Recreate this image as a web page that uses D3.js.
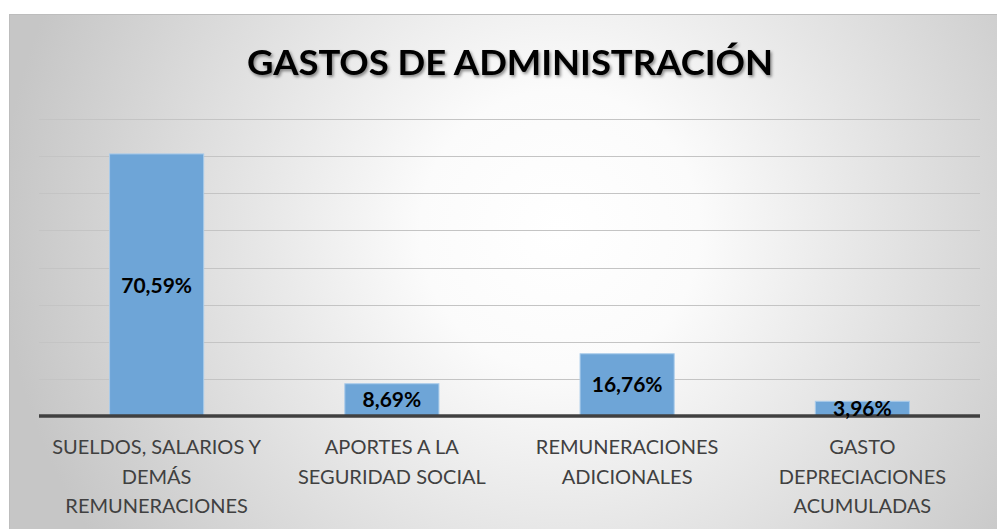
<!DOCTYPE html>
<html lang="es">
<head>
<meta charset="UTF-8">
<title>Gastos de administración</title>
<style>
  body { margin: 0; background: #fff; }
  svg { display: block; }
</style>
</head>
<body>
<script src="https://d3js.org/d3.v7.min.js"></script>
<script>
// datos
const categories = [
  ['SUELDOS, SALARIOS Y', 'DEMÁS', 'REMUNERACIONES'],
  ['APORTES A LA', 'SEGURIDAD SOCIAL'],
  ['REMUNERACIONES', 'ADICIONALES'],
  ['GASTO', 'DEPRECIACIONES', 'ACUMULADAS']
];
const values = [70.59, 8.69, 16.76, 3.96];
const valueLabels = ['70,59%', '8,69%', '16,76%', '3,96%'];
const gridTicks = [0, 10, 20, 30, 40, 50, 60, 70, 80];
const title = 'GASTOS DE ADMINISTRACIÓN';

const width = 997, height = 529;
const plot = { left: 39, right: 980, top: 119, bottom: 416 };

const svg = d3.select('body').append('svg')
  .attr('width', width)
  .attr('height', height);

const defs = svg.append('defs');
const bg = defs.append('radialGradient')
  .attr('id', 'bg')
  .attr('gradientUnits', 'userSpaceOnUse')
  .attr('cx', 560).attr('cy', 230).attr('r', 560);
bg.append('stop').attr('offset', '0%').attr('stop-color', '#ffffff');
bg.append('stop').attr('offset', '25%').attr('stop-color', '#fbfbfb');
bg.append('stop').attr('offset', '100%').attr('stop-color', '#c6c6c6');

const shadow = defs.append('filter').attr('id', 'shadow')
  .attr('x', '-5%').attr('y', '-20%').attr('width', '110%').attr('height', '150%');
shadow.append('feDropShadow')
  .attr('dx', 1.5).attr('dy', 2).attr('stdDeviation', 1.5)
  .attr('flood-color', '#000').attr('flood-opacity', 0.45);

// fondo del gráfico
svg.append('rect')
  .attr('x', 9.5).attr('y', 14.5)
  .attr('width', width).attr('height', height)
  .attr('fill', 'url(#bg)')
  .attr('stroke', '#bdbdbd');

const x = d3.scaleBand()
  .domain(d3.range(values.length))
  .range([plot.left, plot.right])
  .paddingInner(0.6)
  .paddingOuter(0.3);

const y = d3.scaleLinear()
  .domain([0, 80])
  .range([plot.bottom, plot.top]);

// líneas de cuadrícula
svg.append('g')
  .selectAll('line')
  .data(gridTicks.slice(1))
  .join('line')
  .attr('x1', plot.left).attr('x2', plot.right)
  .attr('y1', d => Math.round(y(d)) + 0.5)
  .attr('y2', d => Math.round(y(d)) + 0.5)
  .attr('stroke', '#c4c4c4')
  .attr('stroke-width', 1);

// barras
svg.append('g')
  .selectAll('rect')
  .data(values)
  .join('rect')
  .attr('x', (d, i) => x(i))
  .attr('y', d => y(d))
  .attr('width', x.bandwidth())
  .attr('height', d => y(0) - y(d))
  .attr('fill', '#6ea5d7')
  .attr('stroke', '#a9cbea')
  .attr('stroke-width', 1);

// eje x
svg.append('line')
  .attr('x1', plot.left).attr('x2', plot.right)
  .attr('y1', y(0)).attr('y2', y(0))
  .attr('stroke', '#404040')
  .attr('stroke-width', 3.5);

// etiquetas de valor
svg.append('g')
  .selectAll('text')
  .data(values)
  .join('text')
  .attr('x', (d, i) => x(i) + x.bandwidth() / 2)
  .attr('y', d => (y(d) + y(0)) / 2)
  .attr('dy', '0.36em')
  .attr('text-anchor', 'middle')
  .attr('font-family', 'Lato, sans-serif')
  .attr('font-weight', 700)
  .attr('font-size', 21)
  .attr('fill', '#000')
  .text((d, i) => valueLabels[i]);

// etiquetas de categoría
const cat = svg.append('g')
  .selectAll('text')
  .data(categories)
  .join('text')
  .attr('x', (d, i) => x(i) + x.bandwidth() / 2)
  .attr('y', 454)
  .attr('text-anchor', 'middle')
  .attr('font-family', 'Lato, sans-serif')
  .attr('font-size', 20)
  .attr('fill', '#404040');

cat.selectAll('tspan')
  .data(d => d)
  .join('tspan')
  .attr('x', function () { return this.parentNode.getAttribute('x'); })
  .attr('dy', (d, j) => j === 0 ? 0 : 29.5)
  .text(d => d);

// título
svg.append('text')
  .attr('x', 510)
  .attr('y', 75)
  .attr('text-anchor', 'middle')
  .attr('font-family', 'Lato, sans-serif')
  .attr('font-weight', 700)
  .attr('font-size', 34)
  .attr('textLength', 526)
  .attr('lengthAdjust', 'spacingAndGlyphs')
  .attr('fill', '#000')
  .attr('filter', 'url(#shadow)')
  .text(title);
</script>
</body>
</html>
